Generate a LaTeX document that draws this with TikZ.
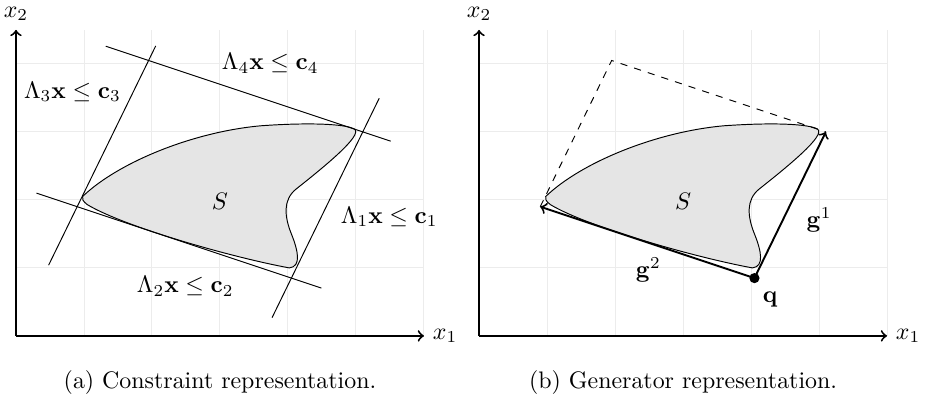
\documentclass[tikz,border=0pt]{standalone}
\usepackage{amsmath}
\usetikzlibrary{calc}

% the set S, drawn the same in both panels
\newcommand{\drawsetS}{%
  \draw[region] (0.98,2.05)
    .. controls (1.5,2.55) and (2.6,3.0) .. (3.6,3.09)
    .. controls (4.3,3.14) and (4.85,3.12) .. (4.98,3.04)
    .. controls (5.1,2.95) and (4.55,2.5) .. (4.12,2.16)
    .. controls (3.92,2.0) and (3.95,1.75) .. (4.05,1.5)
    .. controls (4.15,1.25) and (4.2,1.02) .. (4.02,1.0)
    .. controls (3.2,1.15) and (1.6,1.6) .. (1.05,1.93)
    .. controls (0.98,1.98) and (0.97,2.02) .. cycle;}

\begin{document}
\begin{tikzpicture}[
    axis/.style={->, thick},
    gridline/.style={gray!15, thin},
    region/.style={draw=black, fill=gray!20},
    halfplane/.style={thin},
    gen/.style={->, thick},
    hull/.style={dashed, thin}
  ]
  \useasboundingbox (-0.235,-0.93) rectangle (13.383,4.94);

  % (a) constraint representation
  \begin{scope}
    \draw[gridline] (0,0) grid (6,4.5);
    \drawsetS

    % corners of the parallelotope
    \coordinate (qa) at (4.05,0.85);
    \coordinate (g1a) at (5.1,3.0);
    \coordinate (g2a) at (0.9,1.9);
    \coordinate (topa) at (1.95,4.05);

    % the four half-planes
    \draw[halfplane] ($(qa)!-0.27!(g1a)$) -- ($(qa)!1.23!(g1a)$);
    \draw[halfplane] ($(qa)!-0.14!(g2a)$) -- ($(qa)!1.19!(g2a)$);
    \draw[halfplane] ($(g2a)!-0.4!(topa)$) -- ($(g2a)!1.1!(topa)$);
    \draw[halfplane] ($(g1a)!-0.13!(topa)$) -- ($(g1a)!1.2!(topa)$);

    \node (la1) at (5.49,1.75) {$\Lambda_1\mathbf{x} \leq \mathbf{c}_1$};
    \node (la2) at (2.49,0.73) {$\Lambda_2\mathbf{x} \leq \mathbf{c}_2$};
    \node (la3) at (0.83,3.59) {$\Lambda_3\mathbf{x} \leq \mathbf{c}_3$};
    \node (la4) at (3.74,4.01) {$\Lambda_4\mathbf{x} \leq \mathbf{c}_4$};
    \node (sa) at (3.0,1.98) {$S$};

    % axes
    \draw[axis] (0,0) -- (6,0) node[right] (x1a) {$x_1$};
    \draw[axis] (0,0) -- (0,4.5) node[above] (x2a) {$x_2$};

    \node (capa) at (3.0,-0.69) {(a) Constraint representation.};
  \end{scope}

  % (b) generator representation
  \begin{scope}[xshift=6.81cm]
    \draw[gridline] (0,0) grid (6,4.5);
    \drawsetS

    \coordinate (qb) at (4.05,0.85);
    \coordinate (g1b) at (5.1,3.0);
    \coordinate (g2b) at (0.9,1.9);
    \coordinate (topb) at (1.95,4.05);

    % remaining sides of the zonotope
    \draw[hull] (g2b) -- (topb) -- (g1b);

    % generators from the centre q
    \draw[gen] (qb) -- (g1b);
    \draw[gen] (qb) -- (g2b);
    \fill (qb) circle (0.075);

    \node (gl1) at (5.0,1.71) {$\mathbf{g}^1$};
    \node (gl2) at (2.49,0.97) {$\mathbf{g}^2$};
    \node (ql) at (4.28,0.53) {$\mathbf{q}$};
    \node (sb) at (3.0,1.98) {$S$};

    \draw[axis] (0,0) -- (6,0) node[right] (x1b) {$x_1$};
    \draw[axis] (0,0) -- (0,4.5) node[above] (x2b) {$x_2$};

    \node (capb) at (3.0,-0.69) {(b) Generator representation.};
  \end{scope}
\end{tikzpicture}
\end{document}
